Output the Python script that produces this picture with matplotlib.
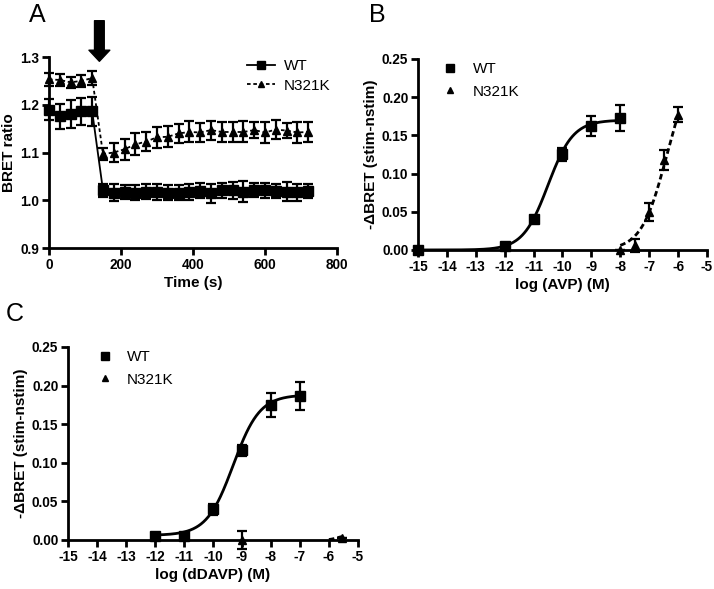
import numpy as np
import matplotlib
matplotlib.use("Agg")
import matplotlib.pyplot as plt
from matplotlib.lines import Line2D

plt.rcParams['font.family'] = ['Liberation Sans', 'DejaVu Sans']
plt.rcParams['axes.unicode_minus'] = False

# ---------------- Panel A data ----------------
time_s = [0, 30, 60, 90, 120, 150, 180, 210, 240, 270, 300, 330, 360, 390, 420,
          450, 480, 510, 540, 570, 600, 630, 660, 690, 720]
wt_a = [1.190, 1.176, 1.181, 1.186, 1.186,
        1.021, 1.016, 1.018, 1.016, 1.018, 1.017, 1.016, 1.016, 1.018, 1.020,
        1.015, 1.021, 1.021, 1.018, 1.021, 1.021, 1.019, 1.018, 1.017, 1.020]
wt_a_err = [0.022, 0.026, 0.030, 0.028, 0.030,
            0.014, 0.018, 0.015, 0.016, 0.016, 0.017, 0.016, 0.015, 0.017, 0.016,
            0.020, 0.016, 0.018, 0.022, 0.015, 0.016, 0.015, 0.020, 0.018, 0.015]
mut_a = [1.253, 1.252, 1.247, 1.250, 1.256,
         1.097, 1.100, 1.107, 1.117, 1.123, 1.132, 1.133, 1.140, 1.143, 1.142,
         1.147, 1.143, 1.143, 1.143, 1.147, 1.142, 1.148, 1.146, 1.142, 1.143]
mut_a_err = [0.013, 0.012, 0.012, 0.013, 0.015,
             0.013, 0.020, 0.022, 0.023, 0.020, 0.022, 0.022, 0.020, 0.022, 0.020,
             0.020, 0.020, 0.020, 0.022, 0.016, 0.022, 0.020, 0.016, 0.022, 0.020]
stim_time = 140

# ---------------- Panel B data ----------------
avp_wt_x = [-15, -12, -11, -10, -9, -8]
avp_wt_y = [0.000, 0.005, 0.041, 0.125, 0.162, 0.173]
avp_wt_err = [0.0, 0.002, 0.003, 0.008, 0.013, 0.017]
avp_mut_x = [-8, -7.5, -7, -6.5, -6]
avp_mut_y = [0.000, 0.006, 0.050, 0.118, 0.177]
avp_mut_err = [0.0, 0.009, 0.012, 0.013, 0.010]
# fit parameters (bottom, top, logEC50, hill)
avp_wt_fit = (0.0, 0.170, -10.5, 1.0)
avp_mut_fit = (0.0, 0.246, -6.4, 1.0)

# ---------------- Panel C data ----------------
ddavp_wt_x = [-12, -11, -10, -9, -8, -7]
ddavp_wt_y = [0.005, 0.005, 0.040, 0.116, 0.175, 0.187]
ddavp_wt_err = [0.002, 0.002, 0.007, 0.007, 0.016, 0.018]
ddavp_mut_x = [-9, -5.55]
ddavp_mut_y = [0.000, 0.003]
ddavp_mut_err = [0.012, 0.0]
ddavp_wt_fit = (0.006, 0.188, -9.3, 0.95)
ddavp_mut_fit = (0.0, 0.006, -5.7, 3.0)


def sigmoid(x, p):
    b, t, ec, h = p
    return b + (t - b) / (1 + 10 ** ((ec - x) * h))


fig = plt.figure(figsize=(7.14, 5.89), dpi=100)

TICK_FS = 9.8
LAB_FS = 11
LEG_FS = 11
SQ = 7
TR = 6
EB = dict(capsize=3.3, elinewidth=1.6, capthick=1.6, clip_on=False, zorder=3)


def style(ax):
    for s in ['top', 'right']:
        ax.spines[s].set_visible(False)
    for s in ['left', 'bottom']:
        ax.spines[s].set_linewidth(2)
    ax.tick_params(direction='out', width=2, length=5, labelsize=TICK_FS, pad=2)
    for lbl in ax.get_xticklabels() + ax.get_yticklabels():
        lbl.set_fontweight('bold')


# ---------------- Panel A ----------------
axA = fig.add_axes([0.0686, 0.5789, 0.4034, 0.3243])
axA.errorbar(time_s, wt_a, yerr=wt_a_err, color='black', marker='s', ms=SQ,
             lw=1.3, **EB)
axA.errorbar(time_s, mut_a, yerr=mut_a_err, color='black', marker='^', ms=TR - 0.5,
             lw=1.3, ls=(0, (2, 1.5)), **EB)
axA.set_xlim(0, 800)
axA.set_ylim(0.9, 1.3)
axA.set_xticks([0, 200, 400, 600, 800])
axA.set_yticks([0.9, 1.0, 1.1, 1.2, 1.3])
axA.set_yticklabels(['0.9', '1.0', '1.1', '1.2', '1.3'])
axA.set_xlabel('Time (s)', fontsize=LAB_FS, fontweight='bold', labelpad=3)
axA.set_ylabel('BRET ratio', fontsize=LAB_FS, fontweight='bold', labelpad=3)
style(axA)
axA.annotate('', xy=(stim_time, 1.291), xytext=(stim_time, 1.376),
             xycoords='data', annotation_clip=False,
             arrowprops=dict(facecolor='black', edgecolor='black', width=7,
                             headwidth=15, headlength=8, shrink=0))
legA = [Line2D([], [], color='black', marker='s', ms=SQ - 1, lw=1.3),
        Line2D([], [], color='black', marker='^', ms=TR - 1, lw=1.3, ls=(0, (2, 1.5)))]
axA.legend(legA, ['WT', 'N321K'], loc='upper left', bbox_to_anchor=(0.64, 1.06),
           frameon=False, fontsize=LEG_FS, handlelength=1.8, handletextpad=0.6,
           labelspacing=0.35)
fig.text(0.040, 0.974, 'A', fontsize=18, ha='left', va='center')

# ---------------- Panel B ----------------
axB = fig.add_axes([0.5854, 0.5756, 0.4048, 0.3243])
xw = np.linspace(-15, -8, 300)
axB.plot(xw, sigmoid(xw, avp_wt_fit), color='black', lw=2)
xm = np.linspace(-8, -6, 200)
axB.plot(xm, sigmoid(xm, avp_mut_fit), color='black', lw=2, ls=(0, (2, 1.2)))
axB.errorbar(avp_wt_x, avp_wt_y, yerr=avp_wt_err, color='black', marker='s', ms=SQ,
             ls='none', **EB)
axB.errorbar(avp_mut_x, avp_mut_y, yerr=avp_mut_err, color='black', marker='^', ms=TR,
             ls='none', **EB)
axB.set_xlim(-15, -5)
axB.set_ylim(0, 0.25)
axB.set_xticks(range(-15, -4))
axB.set_yticks([0, 0.05, 0.10, 0.15, 0.20, 0.25])
axB.set_yticklabels(['0.00', '0.05', '0.10', '0.15', '0.20', '0.25'])
axB.set_xlabel('log (AVP) (M)', fontsize=LAB_FS, fontweight='bold', labelpad=3)
axB.set_ylabel('-ΔBRET (stim-nstim)', fontsize=LAB_FS, fontweight='bold', labelpad=3)
style(axB)
legB = [Line2D([], [], color='black', marker='s', ms=SQ - 1, ls='none'),
        Line2D([], [], color='black', marker='^', ms=TR - 1, ls='none')]
axB.legend(legB, ['WT', 'N321K'], loc='upper left', bbox_to_anchor=(0.025, 1.055),
           frameon=False, fontsize=LEG_FS, handlelength=1.5, handletextpad=0.7,
           labelspacing=0.55)
fig.text(0.517, 0.974, 'B', fontsize=18, ha='left', va='center')

# ---------------- Panel C ----------------
axC = fig.add_axes([0.0952, 0.0832, 0.406, 0.3277])
xc = np.linspace(-12, -7, 300)
axC.plot(xc, sigmoid(xc, ddavp_wt_fit), color='black', lw=2)
xcm = np.linspace(-6, -5.55, 50)
axC.plot(xcm, sigmoid(xcm, ddavp_mut_fit), color='black', lw=2, ls=(0, (2, 1.2)))
axC.errorbar(ddavp_wt_x, ddavp_wt_y, yerr=ddavp_wt_err, color='black', marker='s', ms=SQ,
             ls='none', **EB)
axC.errorbar(ddavp_mut_x, ddavp_mut_y, yerr=ddavp_mut_err, color='black', marker='^', ms=TR,
             ls='none', **EB)
axC.set_xlim(-15, -5)
axC.set_ylim(0, 0.25)
axC.set_xticks(range(-15, -4))
axC.set_yticks([0, 0.05, 0.10, 0.15, 0.20, 0.25])
axC.set_yticklabels(['0.00', '0.05', '0.10', '0.15', '0.20', '0.25'])
axC.set_xlabel('log (dDAVP) (M)', fontsize=LAB_FS, fontweight='bold', labelpad=3)
axC.set_ylabel('-ΔBRET (stim-nstim)', fontsize=LAB_FS, fontweight='bold', labelpad=3)
style(axC)
legC = [Line2D([], [], color='black', marker='s', ms=SQ - 1, ls='none'),
        Line2D([], [], color='black', marker='^', ms=TR - 1, ls='none')]
axC.legend(legC, ['WT', 'N321K'], loc='upper left', bbox_to_anchor=(0.04, 1.055),
           frameon=False, fontsize=LEG_FS, handlelength=1.5, handletextpad=0.7,
           labelspacing=0.55)
fig.text(0.008, 0.467, 'C', fontsize=18, ha='left', va='center')

fig.savefig('out.png', dpi=100)
